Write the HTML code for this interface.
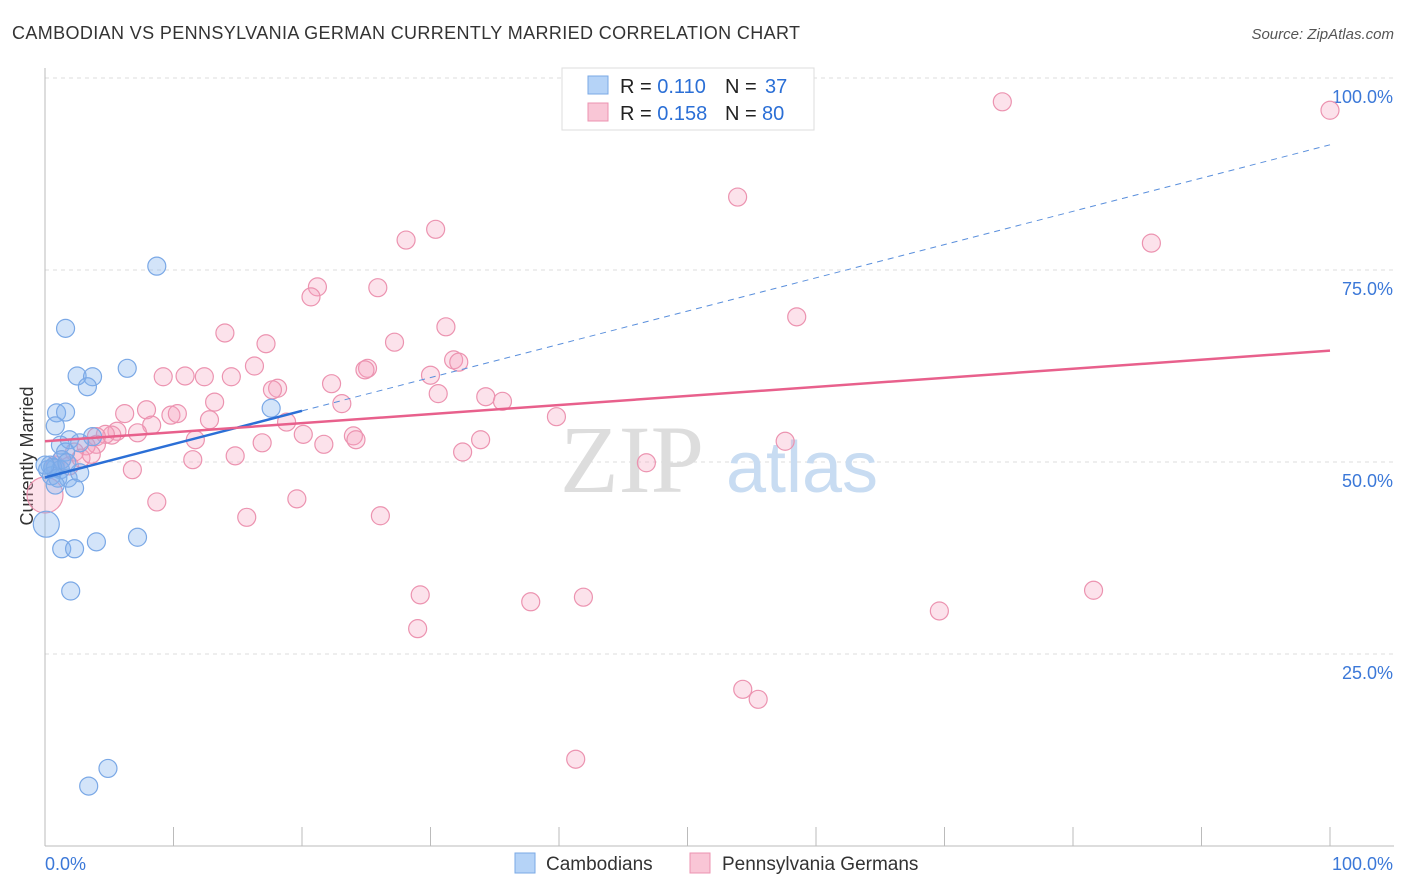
<!DOCTYPE html>
<html><head><meta charset="utf-8"><style>
body{margin:0;background:#fff;font-family:"Liberation Sans",sans-serif;}
</style></head><body>
<svg id="c" width="1406" height="892" style="display:block">
<text x="12" y="39" font-size="18" fill="#333" textLength="788" lengthAdjust="spacing">CAMBODIAN VS PENNSYLVANIA GERMAN CURRENTLY MARRIED CORRELATION CHART</text>
<text x="1394" y="39" font-size="15" fill="#555" text-anchor="end" font-style="italic">Source: ZipAtlas.com</text>
<text x="33" y="456" font-size="18" fill="#333" text-anchor="middle" transform="rotate(-90 33 456)">Currently Married</text>
<g id="grid"></g>
<text x="632" y="492" font-size="96" fill="#ddd" font-family="Liberation Serif,serif" text-anchor="middle">ZIP</text>
<text x="802" y="492" font-size="72" fill="#c8dcf2" text-anchor="middle">atlas</text>
<g id="pts"></g><g id="lines"></g>
<g>
<rect x="562" y="68" width="252" height="62" fill="#fff" stroke="#ddd"/>
<rect x="588" y="76" width="20" height="18" fill="#b5d3f7" stroke="#7aa8e6"/>
<text x="620" y="93" font-size="20" fill="#222">R = <tspan fill="#2b6fd6">0.110</tspan><tspan x="725">N = </tspan><tspan fill="#2b6fd6" x="765">37</tspan></text>
<rect x="588" y="103" width="20" height="18" fill="#f9c6d6" stroke="#ec93b0"/>
<text x="620" y="120" font-size="20" fill="#222">R = <tspan fill="#2b6fd6">0.158</tspan><tspan x="725">N = </tspan><tspan fill="#2b6fd6" x="762">80</tspan></text>
</g>
<g>
<rect x="515" y="853" width="20" height="20" fill="#b5d3f7" stroke="#7aa8e6"/>
<text x="546" y="870" font-size="19" fill="#333">Cambodians</text>
<rect x="690" y="853" width="20" height="20" fill="#f9c6d6" stroke="#ec93b0"/>
<text x="722" y="870" font-size="19" fill="#333">Pennsylvania Germans</text>
</g>
</svg>
<script>
const yTicks=[25,50,75,100];
const yTickLabels=["25.0%","50.0%","75.0%","100.0%"];
const xTicks=[0,10,20,30,40,50,60,70,80,90,100];
const blueX=[8.7,1.6,6.4,2.5,3.7,3.3,0.9,1.6,17.6,0.8,1.2,1.9,3.7,2.7,1.6,1.3,0.4,0.8,1.2,0.2,0.5,1.0,1.8,2.7,0.8,2.3,0.1,1.3,2.3,4.0,7.2,2.0,4.9,3.4,0.6,0.0,1.7];
const blueY=[75.5,67.4,62.2,61.2,61.1,59.8,56.4,56.5,57.0,54.7,52.2,52.9,53.3,52.5,51.3,50.3,49.6,49.2,49.0,49.0,48.2,47.9,47.9,48.6,47.0,46.6,41.9,38.7,38.7,39.6,40.2,33.2,10.1,7.8,49.3,49.6,49.9];
const blueR=[9,9,9,9,9,9,9,9,9,9,9,9,9,9,9,9,9,9,9,9,9,9,9,9,9,9,13,9,9,9,9,9,9,9,9,9,9];
const pinkX=[74.5,100,53.9,30.4,28.1,86.1,21.2,25.9,20.7,58.5,14.0,31.2,17.2,27.2,31.8,32.2,25.1,24.9,16.3,30.0,9.2,10.9,12.4,14.5,22.3,18.1,17.7,13.2,30.6,34.3,35.6,23.1,7.9,6.2,9.8,10.3,39.8,12.8,8.3,18.8,5.6,7.2,5.2,4.7,4.0,11.7,20.1,24.0,24.2,33.9,57.6,16.9,21.7,4.0,3.2,2.3,32.5,14.8,11.5,46.8,1.9,6.8,19.6,8.7,15.7,26.1,0,29.2,37.8,41.9,69.6,81.6,29.0,54.3,55.5,41.3,0.8,1.3,2.8,3.6];
const pinkY=[96.9,95.8,84.5,80.3,78.9,78.5,72.8,72.7,71.5,68.9,66.8,67.6,65.4,65.6,63.3,63.0,62.2,62.0,62.5,61.3,61.1,61.2,61.1,61.1,60.2,59.6,59.4,57.8,58.9,58.5,57.9,57.6,56.8,56.3,56.1,56.3,55.9,55.5,54.8,55.2,54.0,53.8,53.5,53.6,53.3,52.9,53.6,53.4,52.9,52.9,52.7,52.5,52.3,52.3,52.1,51.3,51.3,50.8,50.3,49.9,49.5,49.0,45.2,44.8,42.8,43.0,45.7,32.7,31.8,32.4,30.6,33.3,28.3,20.4,19.1,11.3,49.6,50.3,50.5,51.0];
const pinkR=pinkX.map((v,i)=>i===66?18:9);
const blueTrend=[48.0,91.3];
const blueSolidEnd=20;
const pinkTrend=[52.7,64.5];
const X=v=>45+v*12.85, Y=v=>846-v*7.68;
const NS="http://www.w3.org/2000/svg";
function mk(t,a,p){const e=document.createElementNS(NS,t);for(const k in a)e.setAttribute(k,a[k]);p.appendChild(e);return e;}
const grid=document.getElementById('grid');
yTicks.forEach((t,i)=>{
 const l=mk('line',{x1:45,x2:1394,y1:Y(t),y2:Y(t),stroke:'#ddd','stroke-dasharray':'4 4'},grid);
 
 
 const tx=mk('text',{x:1393,y:Y(t)+25,'font-size':18,fill:'#3b78d8','text-anchor':'end'},grid);
 tx.textContent=yTickLabels[i];
 
 
});
const ax=mk('line',{x1:45,x2:45,y1:68,y2:846,stroke:'#bbb'},grid);


const bx=mk('line',{x1:45,x2:1394,y1:846,y2:846,stroke:'#bbb'},grid);


xTicks.forEach(t=>{const l=mk('line',{x1:X(t),x2:X(t),y1:827,y2:846,stroke:'#bbb'},grid);
 
 });
[["0.0%",45,'start'],["100.0%",1393,'end']].forEach(d=>{const t=mk('text',{x:d[1],y:870,'font-size':18,fill:'#3b78d8','text-anchor':d[2]},grid);t.textContent=d[0];
 
 });
const pts=document.getElementById('pts');
pinkX.forEach((v,i)=>{const c=mk('circle',{cx:X(v),cy:Y(pinkY[i]),r:pinkR[i],fill:'rgba(244,160,188,0.3)',stroke:'#ec93b0','stroke-width':1.2},pts);
 
 });
blueX.forEach((v,i)=>{const c=mk('circle',{cx:X(v),cy:Y(blueY[i]),r:blueR[i],fill:'rgba(130,178,238,0.35)',stroke:'#7aa8e6','stroke-width':1.2},pts);
 
 });
const lines=document.getElementById('lines');
const by=x=>blueTrend[0]+(blueTrend[1]-blueTrend[0])*x/100;
let l1=mk('line',{x1:X(blueSolidEnd),y1:Y(by(blueSolidEnd)),x2:X(100),y2:Y(by(100)),stroke:'#5a8fdc','stroke-width':1,'stroke-dasharray':'6 5'},lines);


let l2=mk('line',{x1:X(0),y1:Y(by(0)),x2:X(blueSolidEnd),y2:Y(by(blueSolidEnd)),stroke:'#2b6fd6','stroke-width':2.5},lines);


let l3=mk('line',{x1:X(0),y1:Y(pinkTrend[0]),x2:X(100),y2:Y(pinkTrend[1]),stroke:'#e8608c','stroke-width':2.5},lines);


</script>
</body></html>
